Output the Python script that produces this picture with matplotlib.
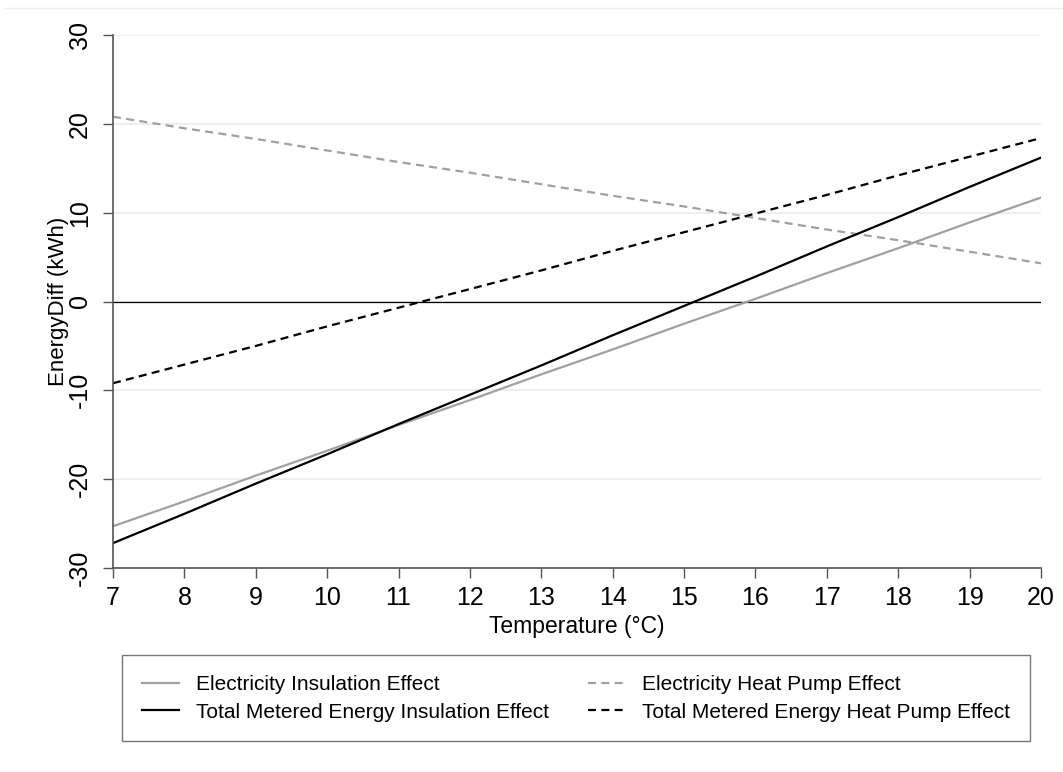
import matplotlib.pyplot as plt

plt.rcParams['font.family'] = ['Liberation Sans', 'DejaVu Sans']
plt.rcParams['axes.unicode_minus'] = False

# Data
temps = [7, 8, 9, 10, 11, 12, 13, 14, 15, 16, 17, 18, 19, 20]
elec_insul = [-25.3, -22.5, -19.6, -16.8, -13.9, -11.1, -8.2, -5.4, -2.5, 0.3, 3.2, 6.0, 8.9, 11.7]
total_insul = [-27.2, -23.9, -20.5, -17.2, -13.8, -10.5, -7.2, -3.8, -0.5, 2.8, 6.2, 9.5, 12.9, 16.2]
elec_hp = [20.8, 19.5, 18.3, 17.0, 15.7, 14.5, 13.2, 11.9, 10.7, 9.4, 8.1, 6.9, 5.6, 4.3]
total_hp = [-9.2, -7.1, -5.0, -2.8, -0.7, 1.4, 3.5, 5.7, 7.8, 9.9, 12.0, 14.2, 16.3, 18.4]
yticks = [-30, -20, -10, 0, 10, 20, 30]

fig = plt.figure(figsize=(10.63, 7.72), dpi=100)
ax = fig.add_axes([113/1063, 1 - 568/772, (1041-113)/1063, (568-35)/772])

# faint border line at the top of the graph region
fig.add_artist(plt.Line2D([0.005, 1], [1 - 7.5/772, 1 - 7.5/772], color='#ececec', lw=1))

for t in yticks:
    ax.axhline(t, color='#eee9ec', lw=1.2, zorder=0)
ax.axhline(0, color='black', lw=0.9, zorder=1)

dash = (0, (3.6, 2.4))
l1, = ax.plot(temps, elec_insul, color='#a0a0a0', lw=1.6, label='Electricity Insulation Effect')
l2, = ax.plot(temps, elec_hp, color='#a0a0a0', lw=1.6, ls=dash, label='Electricity Heat Pump Effect')
l3, = ax.plot(temps, total_insul, color='black', lw=1.6, label='Total Metered Energy Insulation Effect')
l4, = ax.plot(temps, total_hp, color='black', lw=1.6, ls=dash, label='Total Metered Energy Heat Pump Effect')

ax.set_xlim(7, 20)
ax.set_ylim(-30, 30)
ax.set_xticks(temps)
ax.set_yticks(yticks)
ax.tick_params(axis='both', labelsize=18, length=7.2, width=1, color='#555555', direction='out')
ax.tick_params(axis='x', pad=6)
ax.tick_params(axis='y', pad=8)
for lab in ax.get_yticklabels():
    lab.set_rotation(90)
    lab.set_va('center')
for s in ['top', 'right']:
    ax.spines[s].set_visible(False)
for s in ['left', 'bottom']:
    ax.spines[s].set_color('#555555')
    ax.spines[s].set_linewidth(1.2)

ax.set_xlabel('Temperature (°C)', fontsize=16.5, labelpad=3)
ax.set_ylabel('EnergyDiff (kWh)', fontsize=16, labelpad=-1)

leg = fig.legend([l1, l3, l2, l4], [l.get_label() for l in [l1, l3, l2, l4]],
                 loc='upper left', bbox_to_anchor=(122/1063, 1 - 742/772, 908/1063, 87/772),
                 mode='expand', ncol=2, fontsize=15, borderaxespad=0,
                 frameon=True, fancybox=False, edgecolor='#555555', handlelength=1.8,
                 handletextpad=0.8, labelspacing=0.42, borderpad=0.95)
leg.get_frame().set_linewidth(1)

fig.savefig('out.png', dpi=100, facecolor='white')
